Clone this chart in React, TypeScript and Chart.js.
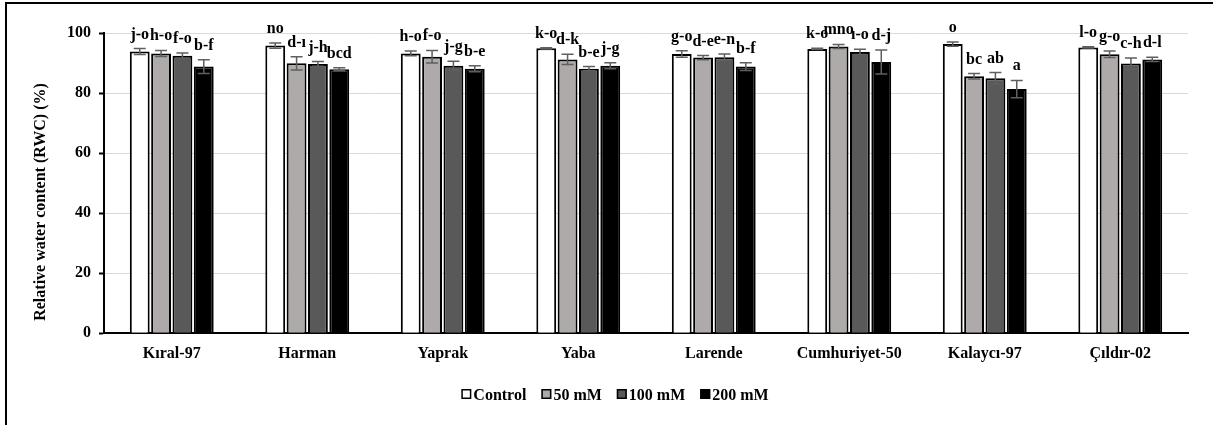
import React, { useEffect, useRef } from "react";
import { Chart, registerables } from "chart.js";

Chart.register(...registerables);

const categories = ["Kıral-97", "Harman", "Yaprak", "Yaba", "Larende", "Cumhuriyet-50", "Kalaycı-97", "Çıldır-02"];
const seriesNames = ["Control", "50 mM", "100 mM", "200 mM"];

const control = [93.9, 95.9, 93.3, 95.0, 93.1, 94.8, 96.4, 95.3];
const mm50 = [93.3, 90.0, 92.2, 91.3, 91.9, 95.6, 85.7, 93.0];
const mm100 = [92.5, 89.8, 89.2, 88.2, 92.0, 93.8, 85.0, 89.9];
const mm200 = [88.9, 88.0, 88.2, 89.2, 88.9, 90.4, 81.4, 91.3];

const controlErr = [1.0, 0.9, 0.8, 0.2, 1.1, 0.2, 0.7, 0.2];
const mm50Err = [1.0, 2.2, 2.1, 1.7, 0.7, 0.7, 0.9, 1.1];
const mm100Err = [0.9, 0.8, 1.5, 0.7, 1.1, 0.9, 1.9, 1.9];
const mm200Err = [2.3, 0.5, 1.0, 1.0, 1.3, 4.0, 2.9, 0.7];

const controlLetters = ["j-o", "no", "h-o", "k-o", "g-o", "k-o", "o", "l-o"];
const mm50Letters = ["h-o", "d-ı", "f-o", "d-k", "d-e", "mno", "bc", "g-o"];
const mm100Letters = ["f-o", "j-h", "j-g", "b-e", "e-n", "ı-o", "ab", "c-h"];
const mm200Letters = ["b-f", "bcd", "b-e", "j-g", "b-f", "d-j", "a", "d-l"];

const yTicks = [0, 20, 40, 60, 80, 100];
const yTitle = "Relative water content (RWC) (%)";

const colors = ["#FFFFFF", "#AEAAAA", "#595959", "#000000"];
const FONT = '"Liberation Serif", "Times New Roman", serif';
const ERR_COLOR = "#5f5f5f";

export default function App() {
  const ref = useRef<HTMLCanvasElement>(null);

  useEffect(() => {
    const canvas = ref.current;
    if (!canvas) return;
    const values = [control, mm50, mm100, mm200];
    const errs = [controlErr, mm50Err, mm100Err, mm200Err];
    const letters = [controlLetters, mm50Letters, mm100Letters, mm200Letters];

    const overlay = {
      id: "overlay",
      afterDatasetsDraw(chart: any) {
        const ctx = chart.ctx;
        const ys = chart.scales.y;
        values.forEach((data, di) => {
          const meta = chart.getDatasetMeta(di);
          meta.data.forEach((el: any, i: number) => {
            const x = el.x;
            const v = data[i];
            const e = errs[di][i];
            const yt = ys.getPixelForValue(v + e);
            const yb = ys.getPixelForValue(v - e);
            ctx.save();
            ctx.strokeStyle = ERR_COLOR;
            ctx.lineWidth = 1.5;
            ctx.beginPath();
            ctx.moveTo(x, yt);
            ctx.lineTo(x, yb);
            ctx.moveTo(x - 6, yt);
            ctx.lineTo(x + 6, yt);
            ctx.moveTo(x - 6, yb);
            ctx.lineTo(x + 6, yb);
            ctx.stroke();
            ctx.fillStyle = "#000";
            ctx.font = `bold 16px ${FONT}`;
            ctx.textAlign = "center";
            ctx.textBaseline = "alphabetic";
            ctx.fillText(letters[di][i], x, yt - 10);
            ctx.restore();
          });
        });
      },
      afterDraw(chart: any) {
        const ctx = chart.ctx;
        ctx.save();
        // frame
        ctx.fillStyle = "#000";
        ctx.fillRect(5, 2, 1213, 2);
        ctx.fillRect(5, 2, 2, 425);
        // y title
        ctx.save();
        ctx.translate(45, 202);
        ctx.rotate(-Math.PI / 2);
        ctx.font = `bold 16px ${FONT}`;
        ctx.textAlign = "center";
        ctx.textBaseline = "alphabetic";
        ctx.fillText(yTitle, 0, 0);
        ctx.restore();
        // legend
        ctx.font = `bold 16px ${FONT}`;
        ctx.textBaseline = "alphabetic";
        ctx.textAlign = "left";
        const widths = seriesNames.map((n) => ctx.measureText(n).width);
        const box = 10, gap = 2, spacing = 15;
        const total = widths.reduce((a, w) => a + box + gap + w, 0) + spacing * (seriesNames.length - 1);
        let x = 615 - total / 2;
        seriesNames.forEach((n, i) => {
          ctx.fillStyle = colors[i];
          ctx.fillRect(x, 389, box, box);
          ctx.strokeStyle = "#000";
          ctx.lineWidth = 1.5;
          ctx.strokeRect(x + 0.75, 389.75, box - 1.5, box - 1.5);
          ctx.fillStyle = "#000";
          ctx.fillText(n, x + box + gap, 400);
          x += box + gap + widths[i] + spacing;
        });
        ctx.restore();
      },
    };

    const chart = new Chart(canvas, {
      type: "bar",
      data: {
        labels: categories,
        datasets: values.map((d, i) => ({
          label: seriesNames[i],
          data: d,
          backgroundColor: colors[i],
          borderColor: "#000",
          borderWidth: 2,
          barPercentage: 0.93,
          categoryPercentage: 0.63,
        })),
      },
      options: {
        responsive: false,
        animation: false,
        devicePixelRatio: 1,
        layout: { padding: { left: 0, right: 25, top: 33.3, bottom: 0 } },
        plugins: {
          legend: { display: false },
          tooltip: { enabled: false },
          title: { display: false },
        },
        scales: {
          x: {
            grid: { display: false, drawTicks: false },
            border: { display: true, color: "#000", width: 2 },
            ticks: { color: "#000", font: { family: FONT, size: 16, weight: "bold" }, padding: 11, maxRotation: 0, autoSkip: false },
            afterFit: (s: any) => { s.height = 91.7; },
          },
          y: {
            min: 0,
            max: 100,
            afterBuildTicks: (s: any) => { s.ticks = yTicks.map((v) => ({ value: v })); },
            grid: { color: "#D9D9D9", lineWidth: 1, tickColor: "#000", tickLength: 5, tickWidth: 2 },
            border: { display: true, color: "#000", width: 2 },
            ticks: { color: "#000", font: { family: FONT, size: 16, weight: "bold" }, padding: 8 },
            afterFit: (s: any) => { s.width = 104; },
          },
        },
      },
      plugins: [overlay],
    } as any);
    return () => chart.destroy();
  }, []);

  return (
    <div style={{ position: "absolute", left: 0, top: 0, width: 1213, height: 425, background: "#fff" }}>
      <canvas ref={ref} width={1213} height={425} style={{ display: "block" }} />
    </div>
  );
}
